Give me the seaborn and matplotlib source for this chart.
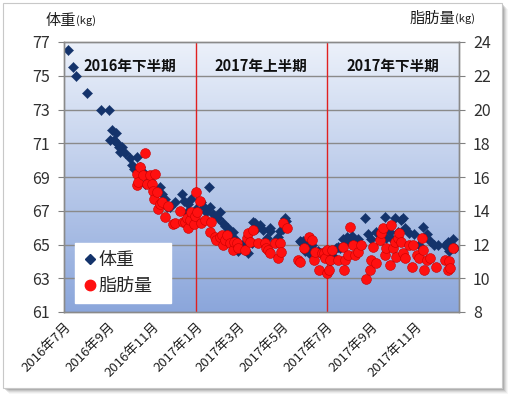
import numpy as np
import pandas as pd
import matplotlib
matplotlib.use("Agg")
import matplotlib.pyplot as plt
import matplotlib.patches as mpatches
from matplotlib.lines import Line2D
import seaborn as sns

# data: days counted from 2016-07-01
start = "2016-07-01"

weight_days = [6, 12, 16, 32, 51, 62, 64, 67, 69, 72,
               73, 77, 78, 81, 85, 92, 94, 97, 102, 106,
               110, 113, 120, 126, 133, 136, 140, 143, 147, 154,
               164, 167, 171, 173, 177, 184, 191, 194, 198, 201,
               203, 207, 214, 217, 221, 224, 226, 228, 231, 235,
               238, 242, 245, 247, 252, 256, 261, 263, 265, 268,
               272, 277, 282, 286, 287, 293, 298, 300, 305, 307,
               308, 328, 330, 332, 335, 337, 341, 344, 346, 353,
               356, 362, 365, 370, 374, 378, 381, 383, 388, 392,
               393, 397, 400, 404, 409, 413, 418, 423, 427, 434,
               439, 446, 448, 453, 456, 460, 464, 469, 471, 474,
               480, 487, 493, 499, 504, 508, 514, 520, 529, 534,
               535, 541, 543]
weight_kg = [76.5, 75.5, 75.0, 74.0, 73.0, 72.95, 71.2, 71.8, 71.2, 71.6,
             71.0, 70.8, 70.5, 70.75, 70.4, 70.1, 69.7, 69.5, 70.2, 69.6,
             69.3, 68.6, 68.8, 68.3, 68.4, 68.0, 67.7, 67.2, 67.2, 67.5,
             68.0, 67.6, 66.9, 67.4, 67.7, 67.1, 67.5, 67.2, 66.9, 68.4,
             67.2, 66.8, 66.55, 66.9, 66.3, 66.1, 65.6, 65.95, 65.3, 65.75,
             65.3, 64.6, 65.0, 64.95, 64.7, 64.5, 65.1, 66.35, 66.25, 66.0,
             66.15, 65.85, 65.4, 65.8, 65.95, 65.2, 65.45, 65.8, 65.9, 66.55,
             66.4, 65.2, 65.15, 65.2, 64.6, 65.0, 64.5, 65.0, 64.7, 64.6,
             64.5, 64.4, 64.3, 64.0, 64.3, 64.8, 64.85, 64.8, 65.3, 65.1,
             65.45, 65.3, 65.5, 65.0, 65.35, 64.9, 66.55, 65.6, 65.3, 65.75,
             65.35, 66.65, 65.4, 65.75, 65.3, 66.55, 65.75, 66.45, 66.55, 65.95,
             65.7, 65.6, 65.0, 66.05, 65.6, 65.2, 65.0, 65.0, 65.0, 65.15,
             64.6, 65.3, 64.8]

fat_days = [101, 102, 103, 105, 110, 113, 115, 120, 122, 124,
            125, 126, 129, 131, 133, 136, 140, 145, 152, 154,
            161, 166, 168, 171, 173, 175, 177, 180, 182, 184,
            185, 189, 190, 196, 203, 205, 210, 211, 217, 219,
            221, 224, 226, 231, 235, 236, 240, 242, 252, 254,
            256, 259, 263, 270, 279, 281, 284, 286, 293, 298,
            300, 301, 304, 310, 325, 328, 333, 340, 344, 348,
            349, 354, 358, 362, 363, 365, 366, 368, 370, 372,
            381, 388, 389, 391, 395, 398, 402, 404, 409, 413,
            420, 425, 427, 430, 434, 439, 441, 444, 446, 448,
            453, 455, 457, 460, 461, 464, 466, 469, 471, 474,
            480, 483, 485, 490, 494, 497, 499, 501, 504, 508,
            517, 529, 534, 535, 536, 541]
fat_kg = [15.5, 16.2, 15.7, 16.6, 16.1, 17.4, 15.6, 16.1, 15.6, 15.2,
          14.7, 16.2, 15.1, 14.1, 14.4, 14.5, 13.65, 14.3, 13.2, 13.25,
          14.0, 13.35, 13.35, 13.6, 13.0, 13.45, 13.9, 13.2, 13.7, 15.1,
          13.9, 14.6, 13.3, 13.45, 12.75, 13.35, 12.45, 12.27, 12.45, 12.56,
          11.97, 12.25, 12.56, 12.07, 11.67, 12.17, 12.07, 11.8, 11.67, 12.37,
          12.66, 12.17, 12.86, 12.07, 12.07, 11.78, 11.67, 11.48, 12.07, 11.18,
          12.07, 11.57, 13.26, 12.96, 11.08, 10.98, 11.78, 12.46, 12.27, 11.08,
          11.57, 10.49, 11.48, 11.48, 11.18, 11.67, 10.3, 10.49, 11.08, 11.67,
          11.08, 11.87, 10.49, 11.08, 11.38, 13.05, 11.97, 11.38, 11.57, 11.97,
          9.98, 10.49, 11.08, 11.87, 10.88, 12.27, 12.66, 12.96, 11.38, 11.78,
          10.79, 13.15, 11.78, 12.17, 11.28, 12.37, 12.66, 12.17, 11.48, 11.18,
          11.97, 10.68, 11.97, 11.38, 11.18, 12.37, 11.67, 10.49, 11.08, 11.18,
          10.68, 11.08, 10.49, 11.0, 10.59, 11.78]

x_ticks = ["2016-07-01", "2016-09-01", "2016-11-01", "2017-01-01", "2017-03-01",
           "2017-05-01", "2017-07-01", "2017-09-01", "2017-11-01", "2018-01-01"]
x_tick_labels = ["2016年7月", "2016年9月", "2016年11月", "2017年1月", "2017年3月",
                 "2017年5月", "2017年7月", "2017年9月", "2017年11月", ""]
period_lines = ["2017-01-01", "2017-07-01"]
period_labels = ["2016年下半期", "2017年上半期", "2017年下半期"]
period_mid = ["2016-10-01", "2017-04-01", "2017-10-01"]

#------------------------------------------------------------
sns.set_style("white")
plt.rcParams['font.family'] = ['Noto Sans CJK JP', 'DejaVu Sans']

W, H = 518, 403
fig = plt.figure(figsize=(W / 100, H / 100), dpi=100)
fig.patch.set_facecolor("white")

def fx(px):
    return px / W

def fy(py):
    return 1 - py / H

# frame with a soft shadow
for k, a in zip(range(6, 0, -1), [0.05, 0.08, 0.12, 0.16, 0.22, 0.3]):
    fig.patches.append(mpatches.Rectangle((fx(3 + k), fy(388 + k)), fx(499), 385 / H,
                                          transform=fig.transFigure, facecolor="#606060",
                                          edgecolor="none", alpha=a, zorder=-3))
fig.patches.append(mpatches.Rectangle((fx(3), fy(388)), fx(499), 385 / H,
                                      transform=fig.transFigure, facecolor="white",
                                      edgecolor="#c8c8c8", lw=0.8, zorder=-2))

ax = fig.add_axes([fx(64), fy(312), fx(395), 270 / H])
ax.set_facecolor("none")

# gradient background
grad = np.linspace(0, 1, 256).reshape(-1, 1)
top_c = np.array([236, 241, 250]) / 255
bot_c = np.array([139, 166, 219]) / 255
img = top_c * (1 - grad[..., None]) + bot_c * grad[..., None]
ax.imshow(img, extent=[0, 1, 0, 1], transform=ax.transAxes, aspect="auto", zorder=0)

wdf = pd.DataFrame({"date": pd.Timestamp(start) + pd.to_timedelta(weight_days, unit="D"),
                    "kg": weight_kg})
fdf = pd.DataFrame({"date": pd.Timestamp(start) + pd.to_timedelta(fat_days, unit="D"),
                    "kg": fat_kg})

for v in range(63, 77, 2):
    ax.axhline(v, color="#8a8a8a", lw=1, zorder=1)
for d in period_lines:
    ax.axvline(pd.Timestamp(d), color="#e02020", lw=1, zorder=1)

sns.scatterplot(data=wdf, x="date", y="kg", ax=ax, marker="D", s=27, color="#14336b",
                edgecolor="#14336b", linewidth=0.3, zorder=3)

ax2 = ax.twinx()
sns.scatterplot(data=fdf, x="date", y="kg", ax=ax2, marker="o", s=50, color="#ff1010",
                edgecolor="#c80000", linewidth=0.4, zorder=3)

xt = pd.to_datetime(x_ticks)
ax.set_xlim(pd.Timestamp("2016-07-01"), pd.Timestamp("2018-01-01"))
ax.set_xticks(xt)
ax.set_xticklabels(x_tick_labels, rotation=45, ha="right", rotation_mode="anchor",
                   fontsize=9.5, color="#202020")
ax.set_ylim(61, 77)
ax.set_yticks(range(61, 78, 2))
ax.tick_params(axis="y", labelsize=11.5, labelcolor="#303030", length=4, color="#808080", pad=6)
ax.tick_params(axis="x", length=4, color="#808080", pad=2)
ax2.set_ylim(8, 24)
ax2.set_yticks(range(8, 25, 2))
ax2.tick_params(axis="y", labelsize=11.5, labelcolor="#303030", length=4, color="#808080", pad=6)
for a in (ax, ax2):
    a.set_xlabel("")
    a.set_ylabel("")
    for s in a.spines.values():
        s.set_color("#8a8a8a")
        s.set_linewidth(1)

for lab, m in zip(period_labels, period_mid):
    ax.text(pd.Timestamp(m), 75.6, lab, ha="center", va="center", fontsize=10.5,
            fontweight="bold", color="#101010", zorder=4)

fig.text(fx(46), fy(20), "体重", fontsize=11, va="center", color="#202020")
fig.text(fx(76), fy(21), "(kg)", fontsize=8, va="center", color="#202020")
fig.text(fx(410), fy(18), "脂肪量", fontsize=11, va="center", color="#202020")
fig.text(fx(455), fy(19), "(kg)", fontsize=8, va="center", color="#202020")

handles = [Line2D([], [], marker="D", ls="", color="#14336b", markersize=5),
           Line2D([], [], marker="o", ls="", color="#ff1010", markersize=7.5)]
leg = ax2.legend(handles, ["体重", "脂肪量"], loc="lower left",
                 bbox_to_anchor=(0.028, 0.033, 0.243, 0.237), mode="expand",
                 borderaxespad=0, fontsize=13, frameon=True, fancybox=False,
                 handlelength=0.7, handletextpad=0.15, borderpad=0.45, labelspacing=0.45)
leg.get_frame().set_facecolor("white")
leg.get_frame().set_edgecolor("white")
leg.get_frame().set_alpha(1)
leg.set_zorder(10)

fig.savefig("out.png", dpi=100)
